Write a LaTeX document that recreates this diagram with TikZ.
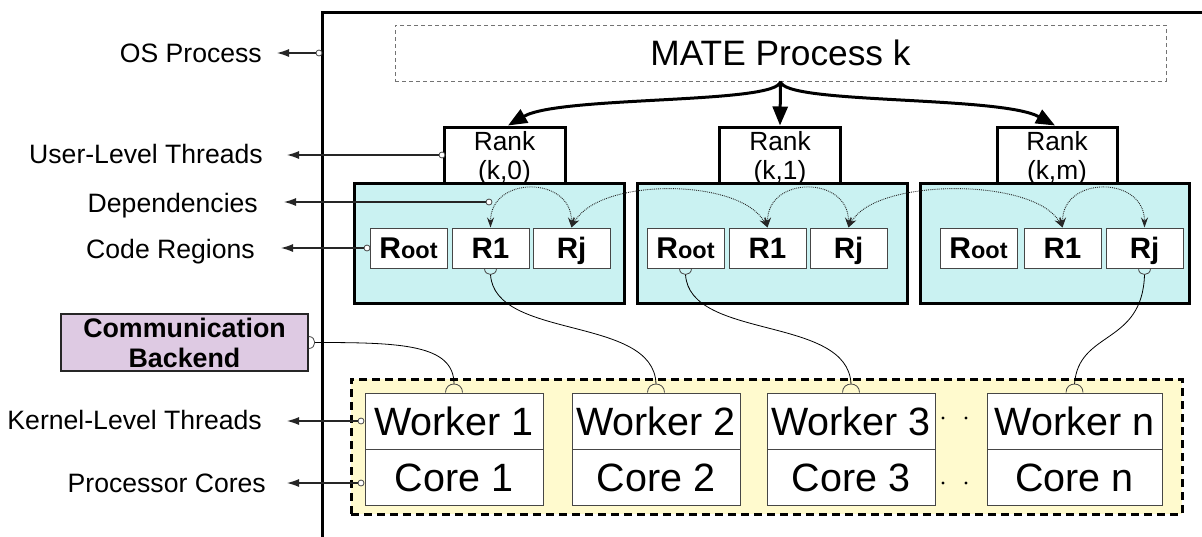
\documentclass[tikz,border=0pt]{standalone}
\usepackage{fontspec}
\setmainfont{Liberation Sans}
\usetikzlibrary{arrows.meta}
\newcommand\myfs[2]{\fontsize{#1}{#2}\selectfont}
\definecolor{cyanfill}{RGB}{202,242,242}
\definecolor{yelfill}{RGB}{255,250,206}
\definecolor{purpfill}{RGB}{222,202,227}
\definecolor{edgegray}{RGB}{70,70,70}
\begin{document}
\begin{tikzpicture}[x=1pt,y=-1pt,
  lbl/.style={anchor=base east, font=\myfs{26.6}{30}, inner sep=0pt},
  ptr/.style={draw=black!85, line width=1.1pt, -{Latex[length=12pt,width=8pt]}},
  pdot/.style={circle, draw=edgegray, fill=white, line width=0.8pt, minimum size=6pt, inner sep=0pt},
  matebox/.style={draw=black!55, dash pattern=on 4pt off 3pt, line width=0.8pt, minimum width=771pt, minimum height=56pt, inner sep=0pt, font=\myfs{35.3}{40}, text height=25pt, text depth=0pt},
  rankbox/.style={draw=black, fill=white, line width=3pt, minimum width=121pt, minimum height=56pt, inner sep=0pt},
  ranktxt/.style={anchor=base, font=\myfs{26.3}{30}, inner sep=0pt},
  cyanbox/.style={draw=black, fill=cyanfill, line width=3pt, minimum height=120pt, inner sep=0pt},
  regbox/.style={draw=edgegray, fill=white, line width=1pt, minimum width=77pt, minimum height=40pt, inner sep=0pt, font=\bfseries\myfs{29.5}{30}, text height=21pt, text depth=0pt},
  dep/.style={densely dotted, draw=black!85, line width=0.9pt, {Stealth[length=10pt,width=7pt]}-{Stealth[length=10pt,width=7pt]}},
  yelbox/.style={draw=black, line width=3pt, dash pattern=on 8pt off 5pt, fill=yelfill, minimum width=831pt, minimum height=135pt, inner sep=0pt},
  wbox/.style={draw=edgegray, fill=white, line width=1pt, minimum height=56pt, inner sep=0pt, font=\myfs{39.5}{40}, text height=28.5pt, text depth=0pt},
  commbox/.style={draw=black!85, fill=purpfill, line width=1.5pt, minimum width=247pt, minimum height=57pt, inner sep=0pt, align=center, font=\bfseries\myfs{26.8}{30}},
  link/.style={draw=black, line width=0.8pt},
  sock/.style={draw=edgegray, line width=0.8pt},
  mainarr/.style={line width=3pt, -{Triangle[length=19pt,width=15pt]}}
]
\useasboundingbox (0,0) rectangle (1202,536);
% OS process frame
\draw[line width=3pt] (322,545) -- (322,12) -- (1210,12);

% MATE process
\node[matebox] (mate) at (780.5,53) {MATE Process k};

% Rank boxes
\node[rankbox] (ranka) at (504.5,155) {};
\node[rankbox] (rankb) at (780,155) {};
\node[rankbox, minimum width=120pt] (rankc) at (1057,155) {};

% cyan boxes
\node[cyanbox, minimum width=270pt] (cba) at (489,243) {};
\node[cyanbox, minimum width=270pt] (cbb) at (772,243) {};
\node[cyanbox, minimum width=269pt] (cbc) at (1054.5,243) {};

% rank texts
\node[ranktxt] (rankat1) at (504.5,150) {Rank};
\node[ranktxt] (rankat2) at (504.5,179) {(k,0)};
\node[ranktxt] (rankbt1) at (780,150) {Rank};
\node[ranktxt] (rankbt2) at (780,179) {(k,1)};
\node[ranktxt] (rankct1) at (1057,150) {Rank};
\node[ranktxt] (rankct2) at (1057,179) {(k,m)};

% code regions
\node[regbox] (rra) at (408.5,248) {{\myfs{30}{30}R}{\myfs{23.5}{30}oot}};
\node[regbox] (r1a) at (490.5,248) {R1};
\node[regbox] (rja) at (571.5,248) {Rj};
\node[regbox] (rrb) at (685.5,248) {{\myfs{30}{30}R}{\myfs{23.5}{30}oot}};
\node[regbox] (r1b) at (767.5,248) {R1};
\node[regbox] (rjb) at (848.5,248) {Rj};
\node[regbox] (rrc) at (978.5,248) {{\myfs{30}{30}R}{\myfs{23.5}{30}oot}};
\node[regbox] (r1c) at (1062.5,248) {R1};
\node[regbox] (rjc) at (1144.5,248) {Rj};

% dependencies
\draw[dep] (r1a.north) .. controls +(0,-52) and +(0,-52) .. (rja.north);
\draw[dep] (rja.north) .. controls +(27,-50) and +(-28,-50) .. (r1b.north);
\draw[dep] (r1b.north) .. controls +(0,-52) and +(0,-52) .. (rjb.north);
\draw[dep] (rjb.north) .. controls +(27,-50) and +(-28,-50) .. (r1c.north);
\draw[dep] (r1c.north) .. controls +(0,-52) and +(0,-52) .. (rjc.north);

% spawn arrows
\draw[mainarr] (mate.south) .. controls +(-2,23) and +(52,-30) .. ([xshift=3.5pt]ranka.north);
\draw[mainarr] (mate.south) -- (rankb.north);
\draw[mainarr] (mate.south) .. controls +(2,23) and +(-55,-30) .. ([xshift=-2pt]rankc.north);

% worker area
\node[yelbox] (ybox) at (766.5,446.5) {};
\node[wbox, minimum width=178pt] (wa) at (454,421) {Worker 1};
\node[wbox, minimum width=178pt] (ca) at (454,477) {Core 1};
\node[wbox, minimum width=168pt] (wb) at (656,421) {Worker 2};
\node[wbox, minimum width=168pt] (cb) at (656,477) {Core 2};
\node[wbox, minimum width=168pt] (wc) at (851,421) {Worker 3};
\node[wbox, minimum width=168pt] (cc) at (851,477) {Core 3};
\node[wbox, minimum width=175pt] (wn) at (1074.5,421) {Worker n};
\node[wbox, minimum width=175pt] (cn) at (1074.5,477) {Core n};
\fill (943,418) circle[radius=1.6pt];
\fill (966,418) circle[radius=1.6pt];
\fill (943,483) circle[radius=1.6pt];
\fill (966,483) circle[radius=1.6pt];

% communication backend
\node[commbox] (comm) at (184.5,342.5) {Communication\\Backend};

% links with sockets
\draw[link] ([xshift=6pt]comm.east) .. controls +(85,0) and +(0,-40) .. ([yshift=8.5pt]wa.north);
\draw[link] ([yshift=-6pt]r1a.south) .. controls +(4,66) and +(-2,-69) .. ([yshift=8.5pt]wb.north);
\draw[link] ([yshift=-6pt]rrb.south) .. controls +(4,66) and +(-3,-69) .. ([yshift=8.5pt]wc.north);
\draw[link] ([yshift=-6pt]rjc.south) .. controls +(-2,71) and +(4,-54) .. ([yshift=8.5pt]wn.north);
\draw[sock] ([yshift=6pt]comm.east) .. controls +(8,0) and +(8,0) .. ([yshift=-6pt]comm.east);
\draw[sock] ([xshift=-6pt]r1a.south) .. controls +(0,8) and +(0,8) .. ([xshift=6pt]r1a.south);
\draw[sock] ([xshift=-6pt]rrb.south) .. controls +(0,8) and +(0,8) .. ([xshift=6pt]rrb.south);
\draw[sock] ([xshift=-6pt]rjc.south) .. controls +(0,8) and +(0,8) .. ([xshift=6pt]rjc.south);
\draw[sock] ([xshift=-8.5pt]wa.north) .. controls +(0,-11.3) and +(0,-11.3) .. ([xshift=8.5pt]wa.north);
\draw[sock] ([xshift=-8.5pt]wb.north) .. controls +(0,-11.3) and +(0,-11.3) .. ([xshift=8.5pt]wb.north);
\draw[sock] ([xshift=-8.5pt]wc.north) .. controls +(0,-11.3) and +(0,-11.3) .. ([xshift=8.5pt]wc.north);
\draw[sock] ([xshift=-8.5pt]wn.north) .. controls +(0,-11.3) and +(0,-11.3) .. ([xshift=8.5pt]wn.north);

% left labels and pointers
\node[lbl] (osl) at (262,62) {OS Process};
\node[lbl] (ull) at (263,163) {User-Level Threads};
\node[lbl] (depl) at (258,212) {Dependencies};
\node[lbl] (crl) at (255,258) {Code Regions};
\node[lbl] (kll) at (262,429) {Kernel-Level Threads};
\node[lbl] (pcl) at (266,492) {Processor Cores};

\node[pdot] (osd) at (319,53) {};
\node[pdot] (uld) at (442,155) {};
\node[pdot] (depd) at (489,202) {};
\node[pdot] (crd) at (367,248) {};
\node[pdot] (kld) at (361,421) {};
\node[pdot] (pcd) at (361,483) {};
\coordinate (ost) at (277,53);
\coordinate (ult) at (287,155);
\coordinate (dept) at (284,202);
\coordinate (crt) at (281,248);
\coordinate (klt) at (287,421);
\coordinate (pct) at (287,483);
\draw[ptr] (osd) -- (ost);
\draw[ptr] (uld) -- (ult);
\draw[ptr] (depd) -- (dept);
\draw[ptr] (crd) -- (crt);
\draw[ptr] (kld) -- (klt);
\draw[ptr] (pcd) -- (pct);
\end{tikzpicture}
\end{document}
